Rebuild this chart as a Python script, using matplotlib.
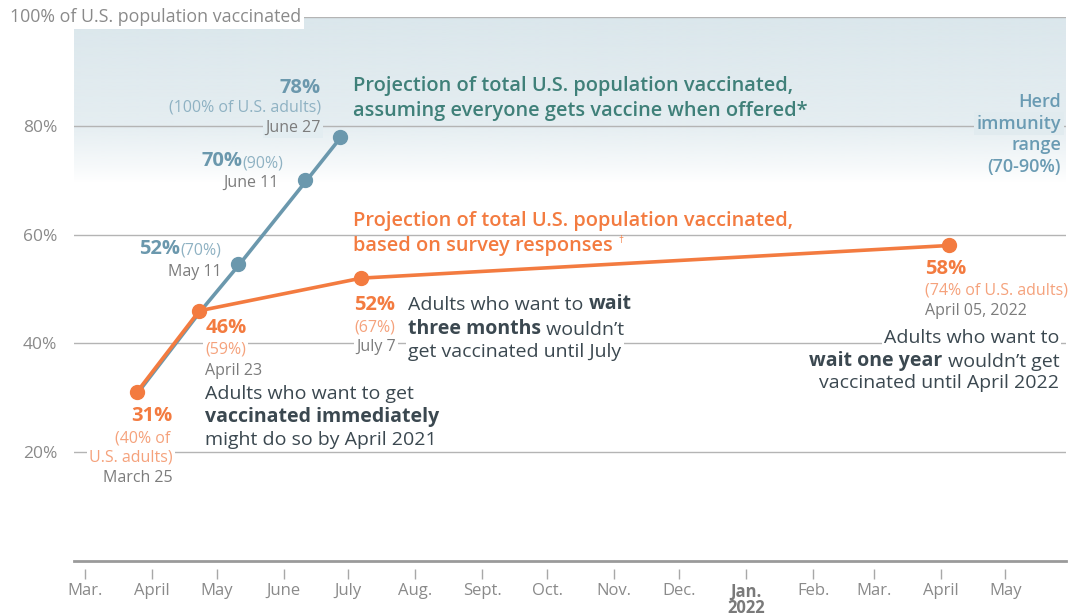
import datetime as dt
import numpy as np
import matplotlib
matplotlib.use('Agg')
import matplotlib.pyplot as plt
import matplotlib.dates as mdates
from matplotlib.colors import to_rgb
from matplotlib import transforms

plt.rcParams['font.family'] = ['Open Sans', 'DejaVu Sans']

# ---- data ----
# projection based on survey responses (share of total population / of adults)
survey_dates = [dt.date(2021, 3, 25), dt.date(2021, 4, 23), dt.date(2021, 7, 7), dt.date(2022, 4, 5)]
survey_pct = [31, 46, 52, 58]
survey_adult_pct = [40, 59, 67, 74]
survey_date_labels = ['March 25', 'April 23', 'July 7', 'April 05, 2022']

# projection assuming everyone gets vaccine when offered
offer_dates = [dt.date(2021, 3, 25), dt.date(2021, 4, 23), dt.date(2021, 5, 11),
               dt.date(2021, 6, 11), dt.date(2021, 6, 27)]
offer_pct = [31, 46, 54.6, 70, 78]          # where the dots sit
offer_label_pct = [31, 46, 52, 70, 78]      # what the labels say
offer_adult_pct = [40, 59, 70, 90, 100]
offer_date_labels = ['March 25', 'April 23', 'May 11', 'June 11', 'June 27']

herd_low, herd_high = 70, 90

month_ticks = [dt.date(2021, m, 1) for m in range(3, 13)] + [dt.date(2022, m, 1) for m in range(1, 6)]
month_labels = ['Mar.', 'April', 'May', 'June', 'July', 'Aug.', 'Sept.', 'Oct.', 'Nov.', 'Dec.',
                'Jan.\n2022', 'Feb.', 'Mar.', 'April', 'May']
y_ticks = [20, 40, 60, 80, 100]

# ---- colours ----
BLUE = '#6b98ad'
BLUE_LIGHT = '#8fb2c3'
TEAL = '#3f8079'
ORANGE = '#f37b40'
ORANGE_LIGHT = '#f5a27c'
GRAY = '#7c7c7c'
DARK = '#3b4850'
GRID = '#b4b4b4'
SHADE = '#dbe7ec'

fig = plt.figure(figsize=(10.69, 6.16), dpi=100)
ax = fig.add_axes([74 / 1069, 1 - 561 / 616, (1066 - 74) / 1069, (561 - 17) / 616])

x0, x1 = dt.date(2021, 2, 24), dt.date(2022, 5, 29)

# herd immunity shading, fading out below 80%
gy = np.linspace(herd_low - 2, 100, 300)
rgba = np.zeros((300, 1, 4))
rgba[..., :3] = to_rgb(SHADE)
rgba[:, 0, 3] = np.interp(gy, [herd_low - 0.5, herd_low + 2, 80, 100], [0, 0.2, 0.72, 1.0])
ax.imshow(rgba, extent=[mdates.date2num(x0), mdates.date2num(x1), herd_low - 2, 100],
          origin='lower', aspect='auto', zorder=0, interpolation='bilinear')

ax.set_xlim(x0, x1)
ax.set_ylim(0, 100)

# lines
shift = transforms.offset_copy(ax.transData, fig=fig, x=1.5, y=0, units='dots')
ax.plot(offer_dates, offer_pct, color=BLUE, lw=2.6, zorder=4, transform=shift)
ax.plot(offer_dates[2:], offer_pct[2:], 'o', color=BLUE, ms=10, zorder=5)
ax.plot(survey_dates, survey_pct, color=ORANGE, lw=2.6, zorder=6)
ax.plot(survey_dates, survey_pct, 'o', color=ORANGE, ms=10, zorder=7)

# axes styling
for s in ['top', 'right', 'left', 'bottom']:
    ax.spines[s].set_visible(False)
ax.spines['bottom'].set_position(('outward', 6))
ax.axhline(0, color='#9a9a9a', lw=2, zorder=2, clip_on=False)
ax.set_yticks(y_ticks)
ax.set_yticklabels(['20%', '40%', '60%', '80%', ''])
ax.yaxis.grid(True, color=GRID, lw=1)
ax.set_axisbelow(True)
ax.tick_params(axis='y', length=0, pad=12, labelsize=12.5, labelcolor='#8a8a8a')
ax.set_xticks(month_ticks)
ax.set_xticklabels(month_labels)
ax.tick_params(axis='x', length=7, width=1, color='#a8a8a8', pad=2.5, labelsize=12, labelcolor='#8a8a8a')
jan = ax.get_xticklabels()[10]
jan.set_fontweight('bold')
jan.set_color('#7a7a7a')
jan.set_linespacing(0.88)

ax.annotate('100% of U.S. population vaccinated', xy=(0, 100), xycoords=('axes fraction', 'data'),
            xytext=(-64, 0), textcoords='offset pixels', ha='left', va='center',
            fontsize=12.8, color='#8a8a8a', bbox=dict(fc='white', ec='none', pad=2), zorder=3)

SMALL = 11.5
BIG = 14.5
TXT = 14
HEAD = 14.4


def note(xy, dx, dy, s, color, size=SMALL, weight='normal', ha='left', bg=None):
    kw = {}
    if bg:
        kw['bbox'] = dict(fc=bg, ec='none', pad=1.5)
    return ax.annotate(s, xy=xy, xytext=(dx, dy), textcoords='offset pixels', ha=ha, va='center',
                       color=color, fontsize=size, fontweight=weight, zorder=3, **kw)


def chain(prev, s, color, size=SMALL, weight='normal', side='right', bg=None):
    kw = {}
    if bg:
        kw['bbox'] = dict(fc=bg, ec='none', pad=1.5)
    if side == 'right':
        xy, ha = (1, 0), 'left'
    else:
        xy, ha = (0, 0), 'right'
    return ax.annotate(s, xy=xy, xycoords=prev, ha=ha, va='bottom', color=color,
                       fontsize=size, fontweight=weight, zorder=3, **kw)


# headlines
p = (offer_dates[-1], offer_pct[-1])
note(p, 13, 51, 'Projection of total U.S. population vaccinated,', TEAL, HEAD, 'semibold')
note(p, 13, 26, 'assuming everyone gets vaccine when offered*', TEAL, HEAD, 'semibold')
p = (survey_dates[2], survey_pct[2])
note(p, -8, 57, 'Projection of total U.S. population vaccinated,', ORANGE, HEAD, 'semibold')
t = note(p, -8, 32, 'based on survey responses ', ORANGE, HEAD, 'semibold')
ax.annotate('\u2020', xy=(1, 0.5), xycoords=t, ha='left', va='bottom', color=ORANGE, fontsize=7, zorder=3)

# herd immunity label
ytr = ax.get_yaxis_transform()
herd_lines = ['Herd', 'immunity', 'range', '(%d-%d%%)' % (herd_low, herd_high)]
for i, line in enumerate(herd_lines):
    ax.annotate(line, xy=(1, 100), xycoords=ytr, xytext=(-5, -85 - 21.7 * i), textcoords='offset pixels',
                ha='right', va='center', color='#6a9bb3', fontsize=13, fontweight='semibold', zorder=3,
                bbox=dict(fc='#e1ebef', ec='none', pad=2) if i == 1 else None)

# blue (offered) point labels
p = (offer_dates[4], offer_pct[4])
note(p, -19, 49, '%d%%' % offer_label_pct[4], BLUE, BIG, 'bold', ha='right')
note(p, -19, 29, '(%d%% of U.S. adults)' % offer_adult_pct[4], BLUE_LIGHT, ha='right')
note(p, -19, 9, offer_date_labels[4], GRAY, ha='right', bg='#e3edf1')
p = (offer_dates[3], offer_pct[3])
t = note(p, -22, 17, '(%d%%)' % offer_adult_pct[3], BLUE_LIGHT, ha='right')
chain(t, '%d%%' % offer_label_pct[3], BLUE, BIG, 'bold', side='left')
note(p, -27, -3, offer_date_labels[3], GRAY, ha='right')
p = (offer_dates[2], offer_pct[2])
t = note(p, -17, 13, '(%d%%)' % offer_adult_pct[2], BLUE_LIGHT, ha='right')
chain(t, '%d%%' % offer_label_pct[2], BLUE, BIG, 'bold', side='left')
note(p, -17, -8, offer_date_labels[2], GRAY, ha='right')

# orange (survey) point labels
p = (survey_dates[0], survey_pct[0])
note(p, 36, -24, '%d%%' % survey_pct[0], ORANGE, BIG, 'bold', ha='right')
note(p, 34, -46, '(%d%% of' % survey_adult_pct[0], ORANGE_LIGHT, ha='right')
note(p, 36, -65, 'U.S. adults)', ORANGE_LIGHT, ha='right', bg='white')
note(p, 36, -86, survey_date_labels[0], GRAY, ha='right')

p = (survey_dates[1], survey_pct[1])
note(p, 6, -17, '%d%%' % survey_pct[1], ORANGE, BIG, 'bold')
note(p, 6, -39, '(%d%%)' % survey_adult_pct[1], ORANGE_LIGHT, bg='white')
note(p, 6, -60, survey_date_labels[1], GRAY)
note(p, 6, -83, 'Adults who want to get', DARK, TXT)
note(p, 6, -106, 'vaccinated immediately', DARK, TXT, 'bold')
note(p, 6, -129, 'might do so by April 2021', DARK, TXT)

p = (survey_dates[2], survey_pct[2])
note(p, -7, -27, '%d%%' % survey_pct[2], ORANGE, BIG, 'bold')
note(p, -7, -49, '(%d%%)' % survey_adult_pct[2], ORANGE_LIGHT)
note(p, -5, -69, survey_date_labels[2], GRAY, bg='white')
t = note(p, 47, -27, 'Adults who want to ', DARK, TXT)
chain(t, 'wait', DARK, TXT, 'bold')
t = note(p, 47, -51, 'three months', DARK, TXT, 'bold')
chain(t, ' wouldn\u2019t', DARK, TXT)
note(p, 47, -74, 'get vaccinated until July', DARK, TXT, bg='white')

p = (survey_dates[3], survey_pct[3])
note(p, -24, -24, '%d%%' % survey_pct[3], ORANGE, BIG, 'bold')
note(p, -24, -45, '(%d%% of U.S. adults)' % survey_adult_pct[3], ORANGE_LIGHT)
note(p, -24, -66, survey_date_labels[3], GRAY)
note(p, 110, -93, 'Adults who want to', DARK, TXT, ha='right', bg='white')
t = note(p, 110, -117, ' wouldn\u2019t get', DARK, TXT, ha='right')
chain(t, 'wait one year', DARK, TXT, 'bold', side='left')
note(p, 110, -138, 'vaccinated until April 2022', DARK, TXT, ha='right')

fig.savefig('out.png', dpi=100)
